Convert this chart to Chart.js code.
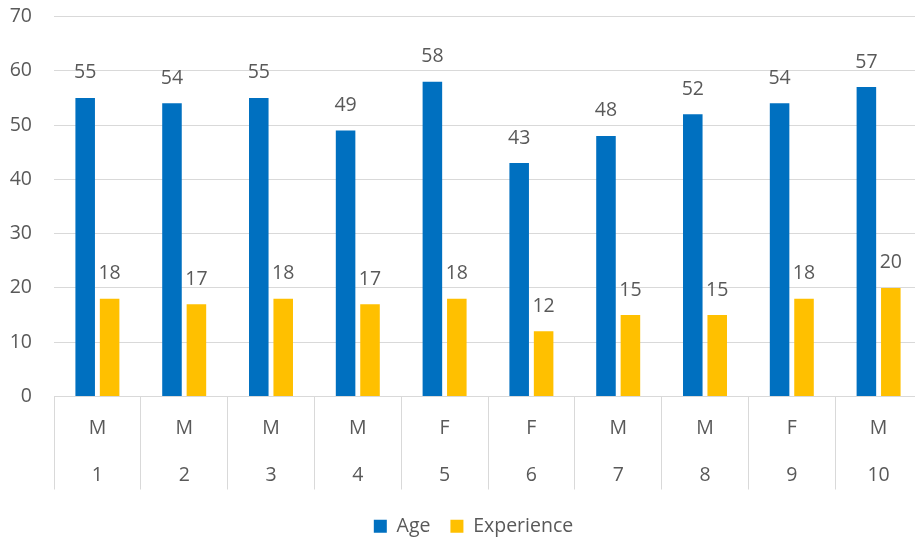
<!DOCTYPE html>
<html lang="en">
<head>
    <meta charset="UTF-8">
    <title>Age and Experience</title>
    <script src="https://cdn.jsdelivr.net/npm/chart.js"></script>
    <style>
        html, body { margin: 0; padding: 0; overflow: hidden; background: #fff; }
        #wrap { width: 915px; height: 539px; overflow: hidden; }
    </style>
</head>
<body>
    <div id="wrap">
        <canvas id="chart" width="947" height="539"></canvas>
    </div>

    <script>
        const gender = ['M', 'M', 'M', 'M', 'F', 'F', 'M', 'M', 'F', 'M'];
        const ids = ['1', '2', '3', '4', '5', '6', '7', '8', '9', '10'];
        const age = [55, 54, 55, 49, 58, 43, 48, 52, 54, 57];
        const experience = [18, 17, 18, 17, 18, 12, 15, 15, 18, 20];
        const yTicks = [0, 10, 20, 30, 40, 50, 60, 70];

        const textColor = '#595959';
        const lineColor = '#d9d9d9';
        const font = { family: '"Open Sans", "Noto Sans", sans-serif', size: 19.5 };

        // values above each bar
        const valueLabels = {
            id: 'valueLabels',
            afterDatasetsDraw(chart) {
                const ctx = chart.ctx;
                ctx.save();
                ctx.font = font.size + 'px ' + font.family;
                ctx.fillStyle = textColor;
                ctx.textAlign = 'center';
                ctx.textBaseline = 'middle';
                chart.data.datasets.forEach((ds, i) => {
                    chart.getDatasetMeta(i).data.forEach((bar, j) => {
                        ctx.fillText(ds.data[j], bar.x, bar.y - 25);
                    });
                });
                ctx.restore();
            }
        };

        // centre the legend on the whole canvas, not the padded box
        const legendShift = {
            id: 'legendShift',
            afterLayout(chart) {
                chart.legend.left += 12.5;
                chart.legend.right += 12.5;
            }
        };

        new Chart(document.getElementById('chart'), {
            type: 'bar',
            data: {
                labels: ids.map((n, i) => [gender[i], n]),
                datasets: [{
                    label: 'Age',
                    data: age,
                    backgroundColor: '#0070C0'
                }, {
                    label: 'Experience',
                    data: experience,
                    backgroundColor: '#FFC000'
                }]
            },
            options: {
                responsive: false,
                animation: false,
                events: [],
                categoryPercentage: 0.563,
                barPercentage: 0.8,
                layout: { padding: { top: 16.5, right: 25, left: 0, bottom: -7 } },
                scales: {
                    x: {
                        // two label rows (gender, number) boxed by the tick lines
                        afterFit(scale) { scale.height = 100; },
                        grid: {
                            offset: true,
                            drawOnChartArea: false,
                            tickLength: 93,
                            color: lineColor,
                            lineWidth: 1
                        },
                        border: { color: lineColor, width: 1 },
                        ticks: {
                            color: textColor,
                            font: { ...font, lineHeight: 47 / 19.5 },
                            padding: -84.5,
                            maxRotation: 0,
                            autoSkip: false
                        }
                    },
                    y: {
                        min: 0,
                        max: 70,
                        afterFit(scale) {
                            scale.width = 54;
                            scale.paddingTop = 0;
                            scale.paddingBottom = 0;
                        },
                        afterBuildTicks(scale) { scale.ticks = yTicks.map(v => ({ value: v })); },
                        grid: { color: lineColor, drawTicks: false },
                        border: { display: false },
                        ticks: { color: textColor, font: font, padding: 22 }
                    }
                },
                plugins: {
                    legend: {
                        position: 'bottom',
                        labels: {
                            color: textColor,
                            font: font,
                            boxWidth: 13,
                            boxHeight: 13,
                            padding: 20
                        }
                    },
                    tooltip: { enabled: false }
                }
            },
            plugins: [valueLabels, legendShift]
        });
    </script>
</body>
</html>
